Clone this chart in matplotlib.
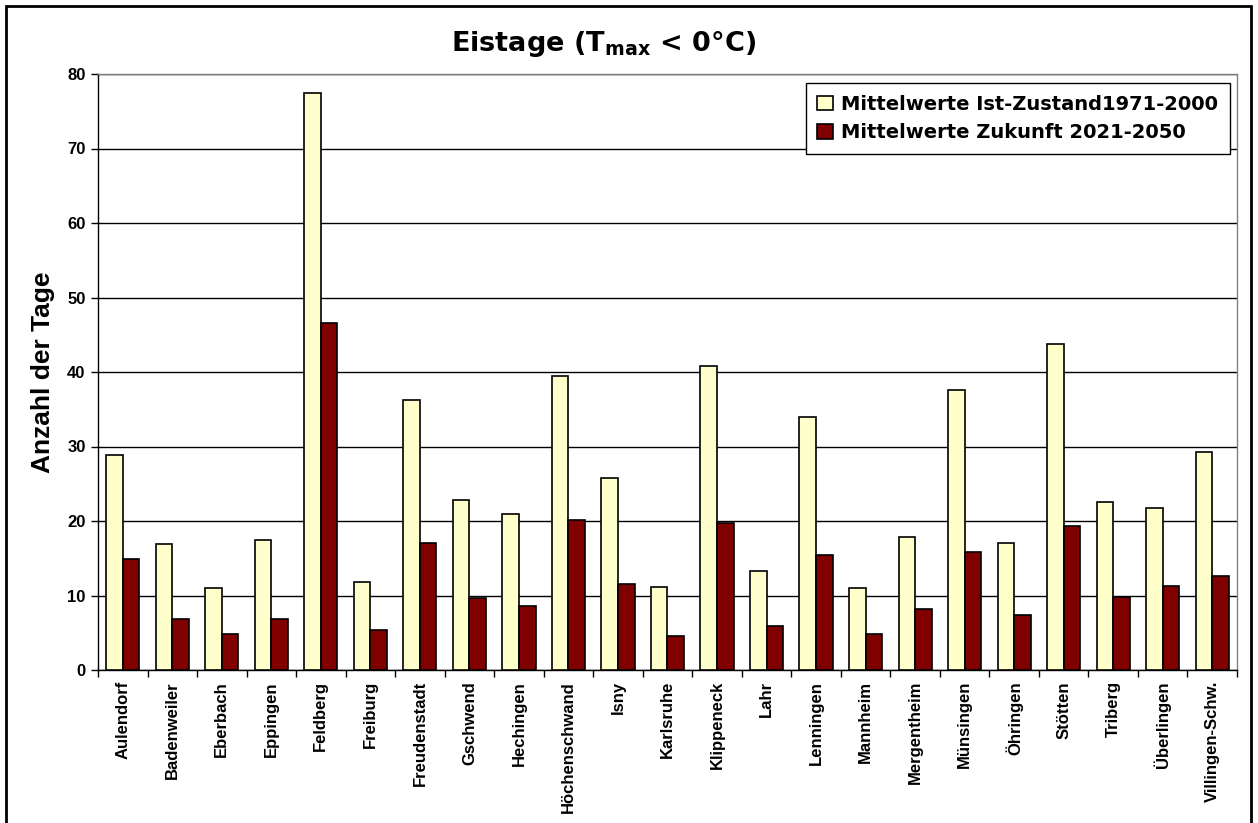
import matplotlib
matplotlib.use('Agg')
import numpy as np
import matplotlib.pyplot as plt
from matplotlib.patches import Rectangle

plt.rcParams['font.family'] = ['Liberation Sans', 'DejaVu Sans']
plt.rcParams['font.weight'] = 'bold'
plt.rcParams['mathtext.fontset'] = 'custom'
plt.rcParams['mathtext.rm'] = 'DejaVu Sans:bold'
plt.rcParams['mathtext.it'] = 'DejaVu Sans:bold'
plt.rcParams['mathtext.bf'] = 'DejaVu Sans:bold'
plt.rcParams['mathtext.default'] = 'bf'

# data
stations = ['Aulendorf', 'Badenweiler', 'Eberbach', 'Eppingen', 'Feldberg', 'Freiburg',
            'Freudenstadt', 'Gschwend', 'Hechingen', 'Höchenschwand', 'Isny', 'Karlsruhe',
            'Klippeneck', 'Lahr', 'Lenningen', 'Mannheim', 'Mergentheim', 'Münsingen',
            'Öhringen', 'Stötten', 'Triberg', 'Überlingen', 'Villingen-Schw.']
ist_1971_2000 = [28.9, 16.9, 11.0, 17.4, 77.5, 11.8, 36.2, 22.8, 21.0, 39.5, 25.8, 11.2,
                 40.8, 13.3, 33.9, 11.0, 17.9, 37.6, 17.1, 43.8, 22.5, 21.7, 29.2]
zukunft_2021_2050 = [14.9, 6.8, 4.8, 6.8, 46.6, 5.4, 17.1, 9.6, 8.6, 20.2, 11.5, 4.5,
                     19.7, 5.9, 15.4, 4.8, 8.2, 15.8, 7.4, 19.3, 9.8, 11.3, 12.6]

W, H = 1258, 823
fig = plt.figure(figsize=(W / 100, H / 100), dpi=100)
ax = fig.add_axes([98 / W, 1 - 670 / H, (1237 - 98) / W, (670 - 74) / H])

x = np.arange(len(stations))
w = 0.335
ax.bar(x - w / 2, ist_1971_2000, w, color='#FFFFCC', edgecolor='black', linewidth=1.2,
       label='Mittelwerte Ist-Zustand1971-2000', zorder=3)
ax.bar(x + w / 2, zukunft_2021_2050, w, color='#800000', edgecolor='black', linewidth=1.2,
       label='Mittelwerte Zukunft 2021-2050', zorder=3)

ax.set_xlim(-0.5, len(stations) - 0.5)
ax.set_ylim(0, 80)
ax.set_yticks(range(0, 81, 10))
ax.yaxis.grid(True, color='black', linewidth=1, zorder=0)
ax.set_xticks(x)
ax.set_xticklabels(stations, rotation=90, fontsize=12, fontweight='bold')
ax.set_xticks(np.arange(-0.5, len(stations), 1), minor=True)
ax.tick_params(axis='x', which='major', length=0, pad=8)
ax.tick_params(axis='x', which='minor', length=5, direction='out', width=1)
ax.tick_params(axis='y', length=5, direction='out', width=1, labelsize=12, pad=4)
for lab in ax.get_yticklabels():
    lab.set_fontweight('bold')
for s in ax.spines.values():
    s.set_linewidth(1)
ax.spines['top'].set_color('#808080')
ax.spines['right'].set_color('#808080')

ax.set_ylabel('Anzahl der Tage', fontsize=19, fontweight='bold')
ax.yaxis.set_label_coords(-(98 - 55) / 1139, 0.5)

leg = ax.legend(loc='upper right', bbox_to_anchor=(1 - 7 / 1139, 1 - 9 / 596), borderaxespad=0,
                fancybox=False, framealpha=1, edgecolor='black',
                prop={'family': 'DejaVu Sans', 'weight': 'bold', 'size': 14},
                handlelength=0.78, handleheight=0.78,
                handletextpad=0.45, labelspacing=0.5, borderpad=0.6)
leg.get_frame().set_linewidth(1)

fig.text(604 / W, 1 - 44 / H, 'Eistage (T$_{max}$ < 0°C)', ha='center', va='center',
         fontsize=19.5, fontweight='bold', family='DejaVu Sans')

fig.patches.append(Rectangle((6 / W, -0.01), 1245 / W, 1 - 6 / H + 0.01, transform=fig.transFigure,
                             fill=False, edgecolor='black', linewidth=2))

fig.savefig('out.png', dpi=100)
